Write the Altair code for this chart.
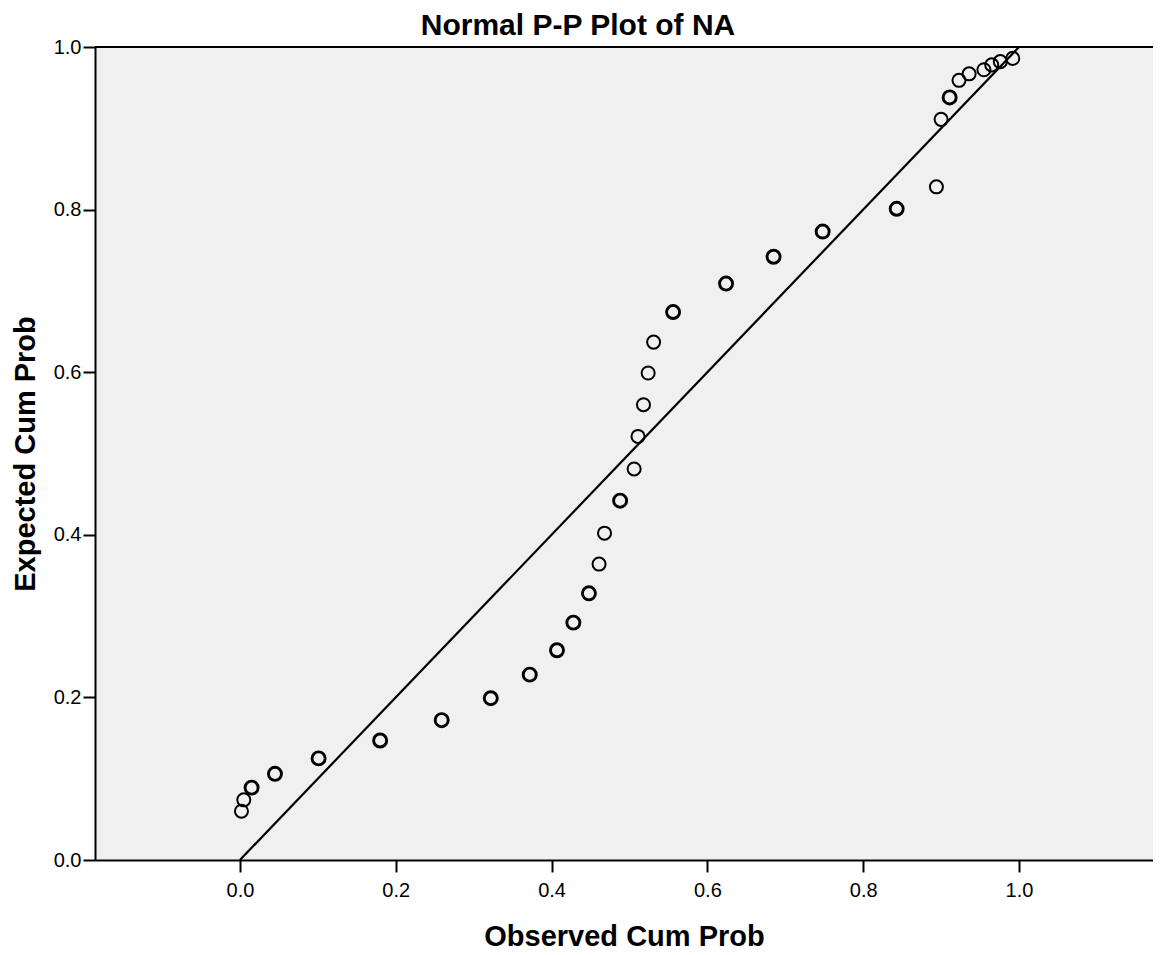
import altair as alt
import pandas as pd

# Observed cumulative probability (x) and expected cumulative probability (y) per plotted point
observed = [0.002, 0.005, 0.015, 0.045, 0.101, 0.180, 0.259, 0.322, 0.372, 0.407,
            0.428, 0.448, 0.461, 0.468, 0.488, 0.506, 0.511, 0.518, 0.524, 0.531,
            0.556, 0.624, 0.685, 0.748, 0.843, 0.894, 0.900, 0.911, 0.923, 0.936,
            0.955, 0.965, 0.976, 0.992]
expected = [0.060, 0.074, 0.089, 0.106, 0.125, 0.147, 0.172, 0.199, 0.228, 0.258,
            0.292, 0.328, 0.364, 0.402, 0.442, 0.481, 0.521, 0.560, 0.599, 0.637,
            0.674, 0.709, 0.742, 0.773, 0.801, 0.828, 0.911, 0.938, 0.959, 0.967,
            0.972, 0.978, 0.982, 0.986]
# number of cases drawn on each point (overlapping cases look bolder)
cases = [1, 1, 2, 2, 2, 2, 2, 2, 2, 2,
         2, 2, 1, 1, 2, 1, 1, 1, 1, 1,
         2, 2, 2, 2, 2, 1, 1, 2, 1, 1,
         1, 1, 1, 1]

# reference diagonal
ref_x = [0.0, 1.0]
ref_y = [0.0, 1.0]

x_ticks = [0.0, 0.2, 0.4, 0.6, 0.8, 1.0]
y_ticks = [0.0, 0.2, 0.4, 0.6, 0.8, 1.0]
x_domain = [-0.186, 1.172]
y_domain = [0.0, 1.0]

pts = pd.DataFrame({"obs": observed, "exp": expected, "n": cases})
ref = pd.DataFrame({"obs": ref_x, "exp": ref_y})
top = pd.DataFrame({"exp": [y_domain[1]]})

FONT = "Liberation Sans"

xscale = alt.Scale(domain=x_domain, nice=False, zero=False)
yscale = alt.Scale(domain=y_domain, nice=False, zero=False)

xaxis = alt.Axis(values=x_ticks, format=".1f", title="Observed Cum Prob",
                 grid=False, labelPadding=8, titlePadding=22, labelFlush=False,
                 labelOverlap=False)
yaxis = alt.Axis(values=y_ticks, format=".1f", title="Expected Cum Prob",
                 grid=False, labelPadding=2, titlePadding=13, labelFlush=False,
                 labelOverlap=False)

line = alt.Chart(ref).mark_line(color="black", strokeWidth=2.2).encode(
    x=alt.X("obs:Q", scale=xscale, axis=xaxis),
    y=alt.Y("exp:Q", scale=yscale, axis=yaxis),
)

points = alt.Chart(pts).mark_point(shape="circle", filled=False, color="black",
                                   size=170, opacity=1).encode(
    x=alt.X("obs:Q", scale=xscale, axis=xaxis),
    y=alt.Y("exp:Q", scale=yscale, axis=yaxis),
    strokeWidth=alt.StrokeWidth("n:Q", scale=alt.Scale(domain=[1, 2], range=[2.0, 2.9]),
                                legend=None),
)

top_border = alt.Chart(top).mark_rule(color="black", strokeWidth=2).encode(
    y=alt.Y("exp:Q", scale=yscale, axis=yaxis),
)

chart = alt.layer(line, points, top_border).properties(
    width=1058,
    height=813,
    background="white",
    title=alt.TitleParams("Normal P-P Plot of NA", font=FONT, fontSize=30,
                          fontWeight="bold", color="black", anchor="middle",
                          dx=-46, offset=-4),
    autosize=alt.AutoSizeParams(type="none"),
    padding={"left": 87, "top": 39, "right": 0, "bottom": 100},
).configure_view(
    fill="#F0F0F0", stroke="#C0C0C0", strokeWidth=1
).configure_axis(
    domainColor="black", domainWidth=2, tickColor="black", tickWidth=2,
    tickSize=12, labelFont=FONT, labelFontSize=20, labelColor="black",
    titleFont=FONT, titleFontSize=29, titleFontWeight="bold", titleColor="black",
)

chart.save("out.html", embed_options={"renderer": "svg", "actions": False})
